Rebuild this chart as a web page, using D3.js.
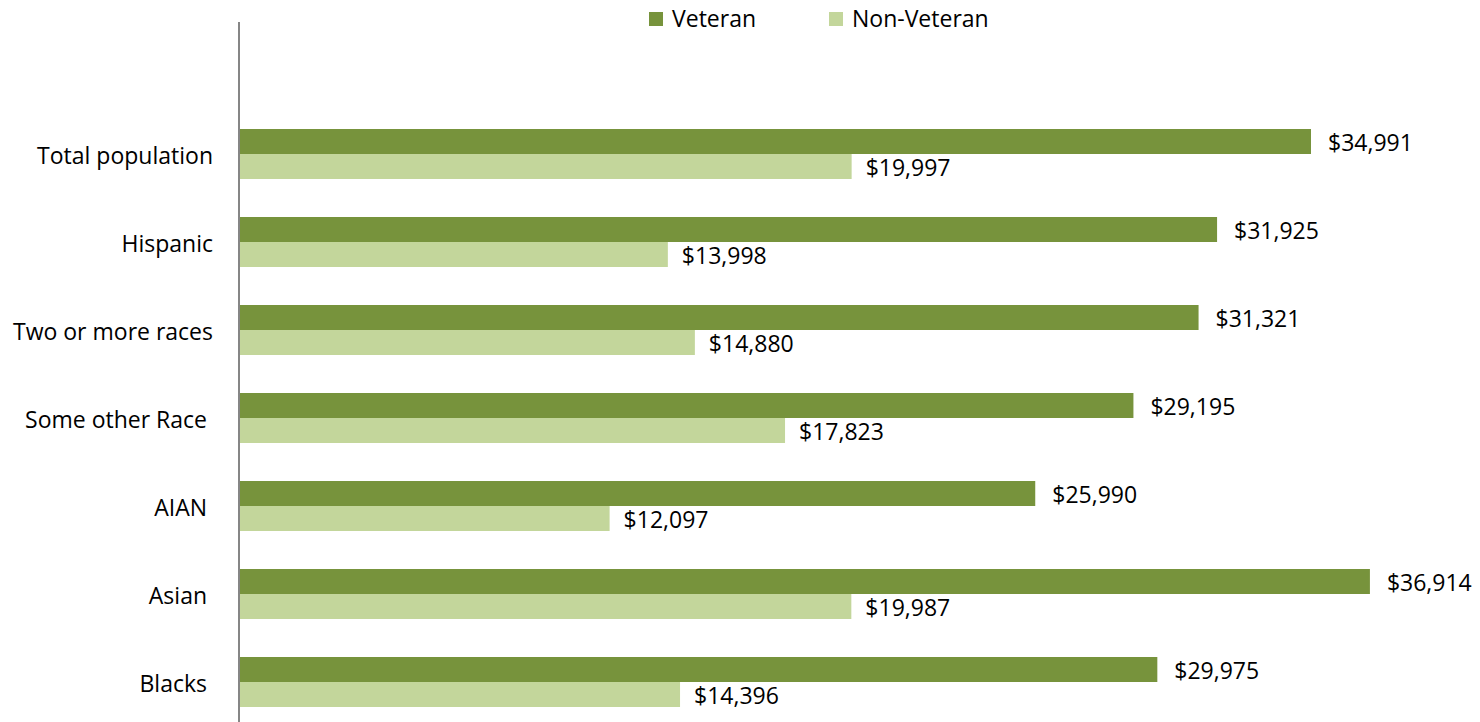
<!DOCTYPE html>
<html>
<head>
<meta charset="utf-8">
<script src="https://cdn.jsdelivr.net/npm/d3@7"></script>
<style>
  html, body { margin: 0; padding: 0; background: #fff; }
  text { font-family: "Open Sans", "Noto Sans", sans-serif; fill: #000; white-space: pre; }
</style>
</head>
<body>
<svg id="chart" width="1480" height="722"></svg>
<script>
const categories = ["Total population", "Hispanic", "Two or more races", "Some other Race ", "AIAN ", "Asian ", "Blacks "];
const veteran = [34991, 31925, 31321, 29195, 25990, 36914, 29975];
const nonVeteran = [19997, 13998, 14880, 17823, 12097, 19987, 14396];
const seriesNames = ["Veteran", "Non-Veteran"];
const colors = ["#77933C", "#C3D69B"];

const svg = d3.select("#chart");
const fontSize = 23;

const x = d3.scaleLinear().domain([0, 34991]).range([239, 1311]);
const y = d3.scaleBand().domain(categories).range([110, 726]).paddingInner(38 / 88).paddingOuter(19 / 88);
const sub = d3.scaleBand().domain(seriesNames).range([0, y.bandwidth()]);

const rows = categories.map((c, i) => ({ cat: c, vals: [veteran[i], nonVeteran[i]] }));

const g = svg.append("g");
rows.forEach(r => {
  r.vals.forEach((v, j) => {
    g.append("rect")
      .attr("x", x(0))
      .attr("y", y(r.cat) + sub(seriesNames[j]))
      .attr("width", x(v) - x(0))
      .attr("height", sub.bandwidth())
      .attr("fill", colors[j]);
    g.append("text")
      .attr("x", x(v) + (j === 0 ? 17 : 14))
      .attr("y", y(r.cat) + sub(seriesNames[j]) + sub.bandwidth() / 2)
      .attr("dy", "0.4em")
      .style("font-size", fontSize + "px")
      .text(d3.format("$,")(v));
  });
});

// category axis
const yAxis = d3.axisLeft(y).tickSize(0).tickPadding(26);
const ax = svg.append("g").attr("transform", "translate(239,0)").call(yAxis);
ax.select(".domain").remove();
ax.selectAll("text").style("font-size", fontSize + "px").style("font-family", '"Open Sans", sans-serif')
  .attr("fill", "#000").attr("dy", "0.42em");
svg.append("line").attr("x1", 239).attr("x2", 239).attr("y1", 22).attr("y2", 722)
  .attr("stroke", "#868686").attr("stroke-width", 2);

// legend
const legendX = [649, 829];
seriesNames.forEach((s, j) => {
  svg.append("rect").attr("x", legendX[j]).attr("y", 12).attr("width", 14).attr("height", 14).attr("fill", colors[j]);
  svg.append("text").attr("x", legendX[j] + 23).attr("y", 19).attr("dy", "0.35em")
    .style("font-size", fontSize + "px").text(s);
});
</script>
</body>
</html>
